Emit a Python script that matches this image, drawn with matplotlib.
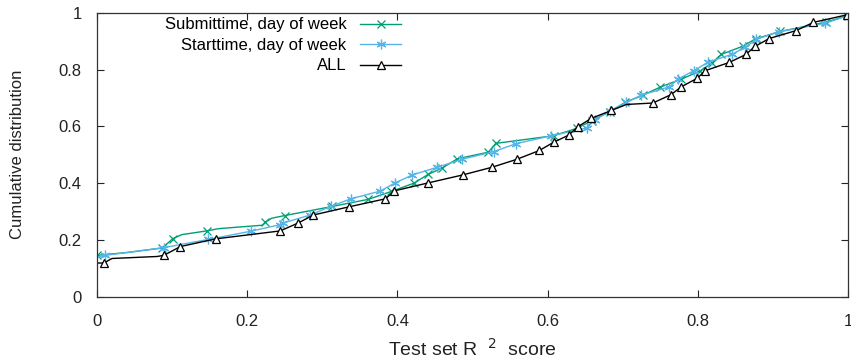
import matplotlib
matplotlib.use("Agg")
import matplotlib.pyplot as plt

plt.rcParams['font.family'] = ['Liberation Sans', 'DejaVu Sans']

# ---- data (x = test set R^2 score, y = cumulative fraction) ----
sub_x = [0.000, 0.040, 0.087, 0.101, 0.113, 0.146, 0.162, 0.220, 0.224, 0.233, 0.250,
         0.313, 0.361, 0.392, 0.422, 0.441, 0.460, 0.480, 0.521, 0.531, 0.608, 0.639,
         0.659, 0.683, 0.703, 0.727, 0.750, 0.778, 0.803, 0.819, 0.831, 0.860, 0.877,
         0.910, 0.971, 1.000]
sub_y = [0.146, 0.156, 0.172, 0.205, 0.219, 0.232, 0.240, 0.252, 0.263, 0.277, 0.286,
         0.318, 0.343, 0.371, 0.400, 0.431, 0.454, 0.486, 0.509, 0.540, 0.567, 0.593,
         0.620, 0.652, 0.684, 0.710, 0.738, 0.766, 0.795, 0.823, 0.853, 0.882, 0.908,
         0.934, 0.967, 0.990]
sub_mark = [1, 0, 1, 1, 0, 1, 0, 0, 1, 0, 1,
            1, 1, 1, 1, 1, 1, 1, 1, 1, 1, 1,
            1, 1, 1, 1, 1, 1, 1, 1, 1, 1, 1,
            1, 1, 1]

start_x = [0.000, 0.011, 0.089, 0.148, 0.205, 0.244, 0.248, 0.284, 0.311, 0.338, 0.377,
           0.397, 0.420, 0.453, 0.486, 0.528, 0.558, 0.605, 0.652, 0.663, 0.683, 0.705,
           0.725, 0.762, 0.774, 0.795, 0.813, 0.846, 0.863, 0.878, 0.908, 0.969, 1.000]
start_y = [0.140, 0.146, 0.173, 0.202, 0.231, 0.254, 0.260, 0.288, 0.318, 0.345, 0.372,
           0.401, 0.429, 0.456, 0.484, 0.511, 0.539, 0.567, 0.594, 0.622, 0.655, 0.684,
           0.710, 0.739, 0.767, 0.796, 0.825, 0.854, 0.878, 0.906, 0.933, 0.962, 0.990]
start_mark = [0, 1, 1, 1, 1, 1, 1, 1, 1, 1, 1,
              1, 1, 1, 1, 1, 1, 1, 1, 1, 1, 1,
              1, 1, 1, 1, 1, 1, 1, 1, 1, 1, 1]

all_x = [0.000, 0.009, 0.020, 0.080, 0.089, 0.111, 0.158, 0.244, 0.268, 0.288, 0.336,
         0.384, 0.396, 0.441, 0.487, 0.526, 0.559, 0.589, 0.608, 0.628, 0.640, 0.658,
         0.685, 0.705, 0.740, 0.764, 0.778, 0.799, 0.810, 0.842, 0.864, 0.876, 0.895,
         0.931, 0.954, 0.998, 1.000]
all_y = [0.119, 0.119, 0.135, 0.142, 0.146, 0.177, 0.204, 0.232, 0.260, 0.288, 0.317,
         0.345, 0.373, 0.401, 0.429, 0.456, 0.484, 0.515, 0.544, 0.569, 0.598, 0.628,
         0.656, 0.677, 0.682, 0.711, 0.739, 0.769, 0.796, 0.825, 0.853, 0.881, 0.909,
         0.937, 0.966, 0.992, 0.995]
all_mark = [0, 1, 0, 0, 1, 1, 1, 1, 1, 1, 1,
            1, 1, 1, 1, 1, 1, 1, 1, 1, 1, 1,
            1, 0, 1, 1, 1, 1, 1, 1, 1, 1, 1,
            1, 1, 1, 0]

labels = ["Submittime, day of week", "Starttime, day of week", "ALL"]
xticks = [0, 0.2, 0.4, 0.6, 0.8, 1]
yticks = [0, 0.2, 0.4, 0.6, 0.8, 1]
xtick_labels = ["0", "0.2", "0.4", "0.6", "0.8", "1"]
ytick_labels = ["0", "0.2", "0.4", "0.6", "0.8", "1"]


def idx(flags):
    return [i for i, f in enumerate(flags) if f]


fig = plt.figure(figsize=(8.51, 3.62), dpi=100)
ax = fig.add_axes([0.114, 0.180, 0.8825, 0.785])

ax.plot(sub_x, sub_y, color="#009e73", lw=1.0, marker="x", ms=6, mew=0.9,
        markevery=idx(sub_mark), label=labels[0])
ax.plot(start_x, start_y, color="#56b4e9", lw=1.0, marker=(6, 2, 0), ms=7, mew=0.9,
        markevery=idx(start_mark), label=labels[1])
ax.plot(all_x, all_y, color="black", lw=1.0, marker="^", ms=6, mew=0.9,
        mfc="white", markevery=idx(all_mark), label=labels[2])

ax.set_xlim(0, 1)
ax.set_ylim(0, 1)
ax.set_xticks(xticks)
ax.set_xticklabels(xtick_labels)
ax.set_yticks(yticks)
ax.set_yticklabels(ytick_labels)
ax.tick_params(direction="in", length=5, width=0.8, top=True, right=True,
               labelsize=12, colors="#222222")
ax.tick_params(axis="x", pad=12)
ax.tick_params(axis="y", pad=11)
for s in ax.spines.values():
    s.set_linewidth(0.9)
    s.set_color("#333333")

ax.set_xlabel("Test set R  $^{2}$  score", fontsize=14, labelpad=7, color="#222222")
ax.set_ylabel("Cumulative distribution", fontsize=12, labelpad=24, color="#222222")

leg = ax.legend(loc="upper left", bbox_to_anchor=(0.07, 1.036), frameon=False,
                markerfirst=False, handlelength=2.5, handletextpad=0.8,
                labelspacing=0.33, fontsize=12, numpoints=1)

fig.savefig("out.png", dpi=100)
